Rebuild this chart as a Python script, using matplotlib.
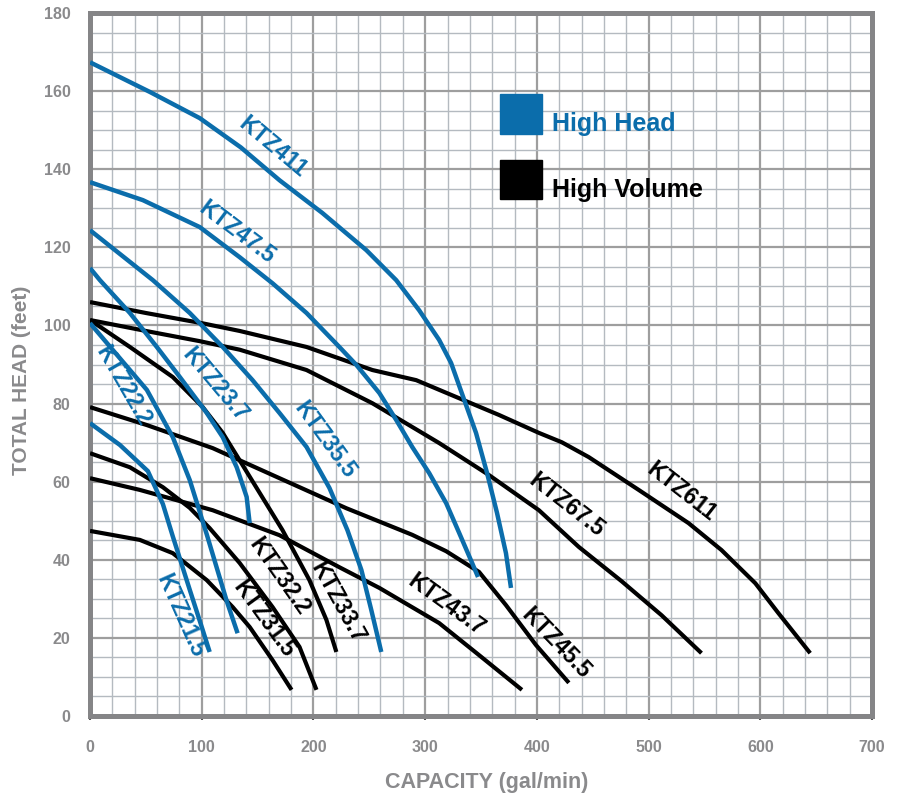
import matplotlib.pyplot as plt
from matplotlib.patches import Rectangle

# pump curves: capacity (gal/min) vs total head (feet)
# high head models (blue)
ktz21_5_q = [0, 26.8, 51.8, 65.2, 74.1, 89.3, 100.9, 107.1]
ktz21_5_h = [75.0, 69.4, 62.7, 54.3, 46.0, 32.3, 22.0, 16.4]

ktz22_2_q = [0, 20.5, 50.9, 74.1, 89.3, 104.5, 122.3, 132.1]
ktz22_2_h = [100.6, 93.7, 83.5, 71.4, 60.4, 46.5, 29.5, 21.2]

ktz23_7_q = [0, 8.9, 35.7, 59.8, 80.4, 104.5, 118.8, 131.3, 140.2, 142.9]
ktz23_7_h = [114.7, 111.6, 103.2, 94.5, 86.8, 77.6, 71.4, 63.7, 56.1, 49.4]

ktz35_5_q = [0, 56.3, 89.3, 118.8, 145.5, 169.6, 193.8, 214.3, 230.4, 242.9, 251.8, 260.7]
ktz35_5_h = [124.4, 111.6, 103.2, 94.5, 86.0, 77.6, 68.9, 58.4, 47.6, 37.4, 27.1, 16.4]

ktz47_5_q = [0, 47.3, 98.2, 133.9, 163.4, 193.8, 223.2, 238.4, 259.0, 274.1, 288.4, 303.6,
             318.8, 330.4, 342.0, 347.3]
ktz47_5_h = [136.7, 132.1, 125.2, 117.5, 110.8, 103.2, 94.5, 89.9, 82.7, 75.8, 68.9, 62.2,
             54.5, 46.9, 39.2, 35.6]

ktz411_q = [0, 53.6, 98.2, 135.0, 169.6, 208.0, 247.3, 274.1, 294.6, 312.5, 323.2, 333.0,
            345.5, 355.4, 364.3, 372.3, 376.8]
ktz411_h = [167.4, 159.8, 153.1, 145.6, 137.2, 128.8, 119.3, 111.6, 103.9, 96.3, 90.4, 82.5,
            72.5, 62.2, 52.0, 41.7, 32.8]

# high volume models (black)
ktz31_5_q = [0, 44.6, 74.1, 104.5, 127.7, 142.9, 163.4, 180.4]
ktz31_5_h = [47.4, 45.1, 41.7, 34.8, 27.9, 22.8, 14.3, 6.7]

ktz32_2_q = [0, 35.7, 65.2, 89.3, 107.1, 133.9, 163.4, 187.5, 202.7]
ktz32_2_h = [67.3, 63.7, 58.6, 53.3, 48.1, 39.2, 27.9, 17.7, 6.7]

ktz33_7_q = [0, 35.7, 74.1, 100.9, 118.8, 133.9, 172.3, 196.4, 211.6, 220.5]
ktz33_7_h = [101.4, 94.5, 86.8, 79.1, 72.5, 65.5, 47.6, 34.8, 24.6, 16.4]

ktz43_7_q = [0, 44.6, 109.8, 169.6, 223.2, 259.0, 312.5, 348.2, 386.6]
ktz43_7_h = [60.9, 57.9, 52.7, 46.3, 38.1, 32.8, 23.8, 15.6, 6.7]

ktz45_5_q = [0, 50.9, 109.8, 169.6, 229.5, 259.0, 288.4, 318.8, 348.2, 372.3, 399.1, 428.6]
ktz45_5_h = [79.1, 74.5, 68.6, 60.9, 53.2, 49.8, 46.4, 42.2, 36.9, 28.4, 18.2, 8.5]

ktz67_5_q = [0, 50.0, 98.0, 134.0, 193.8, 252.7, 312.5, 357.1, 401.8, 437.5, 475.9, 511.6,
             547.3]
ktz67_5_h = [101.4, 98.6, 96.0, 93.8, 88.6, 80.1, 69.9, 61.7, 52.7, 43.3, 34.5, 25.8, 16.1]

ktz611_q = [0, 50.0, 100.0, 134.0, 193.8, 252.7, 292.0, 327.7, 366.0, 401.8, 422.3, 446.4,
            491.1, 535.7, 565.2, 595.5, 616.0, 644.6]
ktz611_h = [106.0, 103.2, 100.6, 98.6, 94.5, 88.6, 86.0, 81.7, 77.1, 72.5, 70.1, 66.3,
            57.9, 49.4, 42.5, 34.0, 26.4, 16.1]

x_ticks = [0, 100, 200, 300, 400, 500, 600, 700]
y_ticks = [0, 20, 40, 60, 80, 100, 120, 140, 160, 180]

BLUE = '#0b6dab'
GREY = '#8a8a8c'
SANS = ['Liberation Sans', 'DejaVu Sans']

fig = plt.figure(figsize=(9.01, 7.97), dpi=100)
ax = fig.add_axes([0.0999, 0.1016, 0.868, 0.882])

ax.set_xlim(0, 700)
ax.set_ylim(0, 180)

# graph-paper grid
ax.set_xticks(range(0, 701, 20), minor=True)
ax.set_yticks(range(0, 181, 5), minor=True)
ax.set_xticks(x_ticks)
ax.set_yticks(y_ticks)
ax.grid(True, which='minor', color='#b4bac0', linewidth=1.0, zorder=0)
ax.grid(True, which='major', color='#9e9e9e', linewidth=1.6, zorder=0)
ax.set_axisbelow(True)

for s in ax.spines.values():
    s.set_color('#858587')
    s.set_linewidth(3.6)

ax.tick_params(which='minor', length=0)
ax.tick_params(axis='x', which='major', length=3, width=1.5, color='#555555', pad=14,
               labelsize=11.5, labelcolor=GREY)
ax.tick_params(axis='y', which='major', length=0, pad=14, labelsize=11.5, labelcolor=GREY)
for lab in ax.get_xticklabels() + ax.get_yticklabels():
    lab.set_fontweight('bold')
    lab.set_family(SANS)

black_curves = [(ktz31_5_q, ktz31_5_h), (ktz32_2_q, ktz32_2_h), (ktz33_7_q, ktz33_7_h),
                (ktz43_7_q, ktz43_7_h), (ktz45_5_q, ktz45_5_h), (ktz67_5_q, ktz67_5_h),
                (ktz611_q, ktz611_h)]
blue_curves = [(ktz21_5_q, ktz21_5_h), (ktz22_2_q, ktz22_2_h), (ktz23_7_q, ktz23_7_h),
               (ktz35_5_q, ktz35_5_h), (ktz47_5_q, ktz47_5_h), (ktz411_q, ktz411_h)]

for q, h in black_curves:
    ax.plot(q, h, color='black', linewidth=3.0, solid_capstyle='butt',
            solid_joinstyle='round', zorder=3)
for q, h in blue_curves:
    ax.plot(q, h, color=BLUE, linewidth=3.2, solid_capstyle='butt',
            solid_joinstyle='round', zorder=4)

# curve labels (name, x, y, angle, colour)
labels = [
    ('KTZ411', 163.4, 145.7, -40, BLUE),
    ('KTZ47.5', 131.3, 123.9, -37, BLUE),
    ('KTZ22.2', 30.0, 84.5, -60, BLUE),
    ('KTZ23.7', 111.6, 84.7, -50, BLUE),
    ('KTZ35.5', 209.8, 70.7, -54, BLUE),
    ('KTZ21.5', 81.3, 25.6, -66, BLUE),
    ('KTZ32.2', 169.6, 35.6, -55, 'black'),
    ('KTZ31.5', 155.4, 24.8, -54, 'black'),
    ('KTZ33.7', 222.0, 29.0, -61, 'black'),
    ('KTZ43.7', 318.8, 28.4, -36, 'black'),
    ('KTZ45.5', 417.0, 18.7, -46, 'black'),
    ('KTZ67.5', 426.8, 54.0, -38, 'black'),
    ('KTZ611', 529.5, 57.3, -38, 'black'),
]
for name, x, y, ang, c in labels:
    ax.text(x, y, name, rotation=ang, rotation_mode='anchor', ha='center', va='center',
            color=c, fontsize=16.5, fontweight='bold', family=SANS, zorder=5)

# legend
ax.add_patch(Rectangle((0.524, 0.828), 0.054, 0.057, transform=ax.transAxes,
                       color=BLUE, zorder=5))
ax.add_patch(Rectangle((0.524, 0.735), 0.054, 0.056, transform=ax.transAxes,
                       color='black', zorder=5))
ax.text(0.591, 0.842, 'High Head', transform=ax.transAxes, va='center', ha='left',
        color=BLUE, fontsize=18, fontweight='bold', family=SANS, zorder=5)
ax.text(0.591, 0.748, 'High Volume', transform=ax.transAxes, va='center', ha='left',
        color='black', fontsize=18, fontweight='bold', family=SANS, zorder=5)

fig.text(0.54, 0.018, 'CAPACITY (gal/min)', ha='center', va='center', color=GREY,
         fontsize=15.5, fontweight='bold', family=SANS)
fig.text(0.024, 0.523, 'TOTAL HEAD (feet)', ha='center', va='center', rotation=90,
         color=GREY, fontsize=15, fontweight='bold', family=SANS)

fig.savefig('out.png', dpi=100)
